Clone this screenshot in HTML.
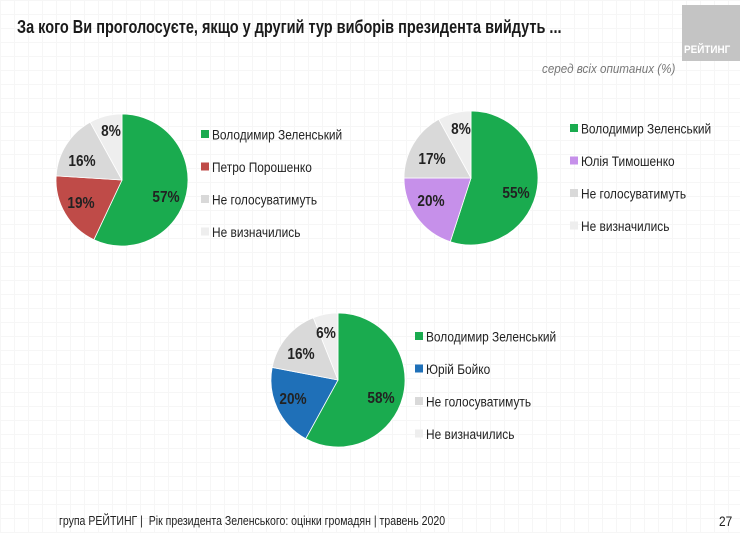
<!DOCTYPE html>
<html><head><meta charset="utf-8">
<style>
html,body{margin:0;padding:0;}
body{width:740px;height:533px;overflow:hidden;position:relative;font-family:"Liberation Sans",sans-serif;
background-color:#fff;
background-image:linear-gradient(#f6f6f6 1px,transparent 1px),linear-gradient(90deg,#f6f6f6 1px,transparent 1px);
background-size:14px 14px;}
.t{position:absolute;white-space:nowrap;}
</style></head><body>
<div class="t" style="left:17px;top:17px;font-size:18px;font-weight:bold;color:#1a1a1a;transform:scaleX(0.805);transform-origin:left;">За кого Ви проголосуєте, якщо у другий тур виборів президента вийдуть ...</div>
<div style="position:absolute;left:682px;top:5px;width:58px;height:56px;background:#c4c4c4;"></div>
<div class="t" style="left:684px;top:44px;font-size:11px;font-weight:bold;color:#fff;transform:scaleX(0.9);transform-origin:left;">РЕЙТИНГ</div>
<div class="t" style="left:542px;top:62px;font-size:12.5px;font-style:italic;color:#777;transform:scaleX(0.93);transform-origin:left;">серед всіх опитаних (%)</div>
<svg id="s" width="740" height="533" style="position:absolute;left:0;top:0;font-family:'Liberation Sans',sans-serif;"></svg>
<div class="t" style="left:59px;top:513px;font-size:13px;color:#222;transform:scaleX(0.81);transform-origin:left;">група РЕЙТИНГ |&nbsp; Рік президента Зеленського: оцінки громадян | травень 2020</div>
<div class="t" style="left:719px;top:513px;font-size:14px;color:#222;transform:scaleX(0.85);transform-origin:left;">27</div>
<script>
var s=document.getElementById('s'),h='';
function pie(cx,cy,r,vals,cols){var a=0;for(var i=0;i<vals.length;i++){var a0=a,a1=a+vals[i]/100*2*Math.PI;a=a1;
var x0=cx+r*Math.sin(a0),y0=cy-r*Math.cos(a0),x1=cx+r*Math.sin(a1),y1=cy-r*Math.cos(a1);
h+='<path d="M'+cx+' '+cy+' L'+x0+' '+y0+' A'+r+' '+r+' 0 '+((a1-a0)>Math.PI?1:0)+' 1 '+x1+' '+y1+' Z" fill="'+cols[i]+'" stroke="#fff" stroke-width="0.8"/>';}}
function lab(x,y,t){h+='<text transform="translate('+x+' '+y+') scale(0.85 1)" font-size="16" font-weight="bold" fill="#222" text-anchor="middle">'+t+'</text>';}
function leg(x,y,items,cols){for(var i=0;i<items.length;i++){var yy=y+i*32.5;h+='<rect x="'+x+'" y="'+(yy-5)+'" width="8" height="8" fill="'+cols[i]+'"/><text transform="translate('+(x+11)+' '+(yy+4.5)+') scale(0.85 1)" font-size="14" fill="#222">'+items[i]+'</text>';}}
var G='#1aab4f',L1='#d9d9d9',L2='#eeeeee';
pie(122,180,66,[57,19,16,8],[G,'#bf4b48',L1,L2]);
lab(166,202,'57%');lab(81,208,'19%');lab(82,166,'16%');lab(111,136,'8%');
leg(201,135,['Володимир Зеленський','Петро Порошенко','Не голосуватимуть','Не визначились'],[G,'#bf4b48',L1,L2]);
pie(471,178,67,[55,20,17,8],[G,'#c690ea',L1,L2]);
lab(516,198,'55%');lab(431,206,'20%');lab(432,164,'17%');lab(461,134,'8%');
leg(570,129,['Володимир Зеленський','Юлія Тимошенко','Не голосуватимуть','Не визначились'],[G,'#c690ea',L1,L2]);
pie(338,380,67,[58,20,16,6],[G,'#1f70b8',L1,L2]);
lab(381,403,'58%');lab(293,404,'20%');lab(301,359,'16%');lab(326,338,'6%');
leg(415,337,['Володимир Зеленський','Юрій Бойко','Не голосуватимуть','Не визначились'],[G,'#1f70b8',L1,L2]);
s.innerHTML=h;
</script>
</body></html>
